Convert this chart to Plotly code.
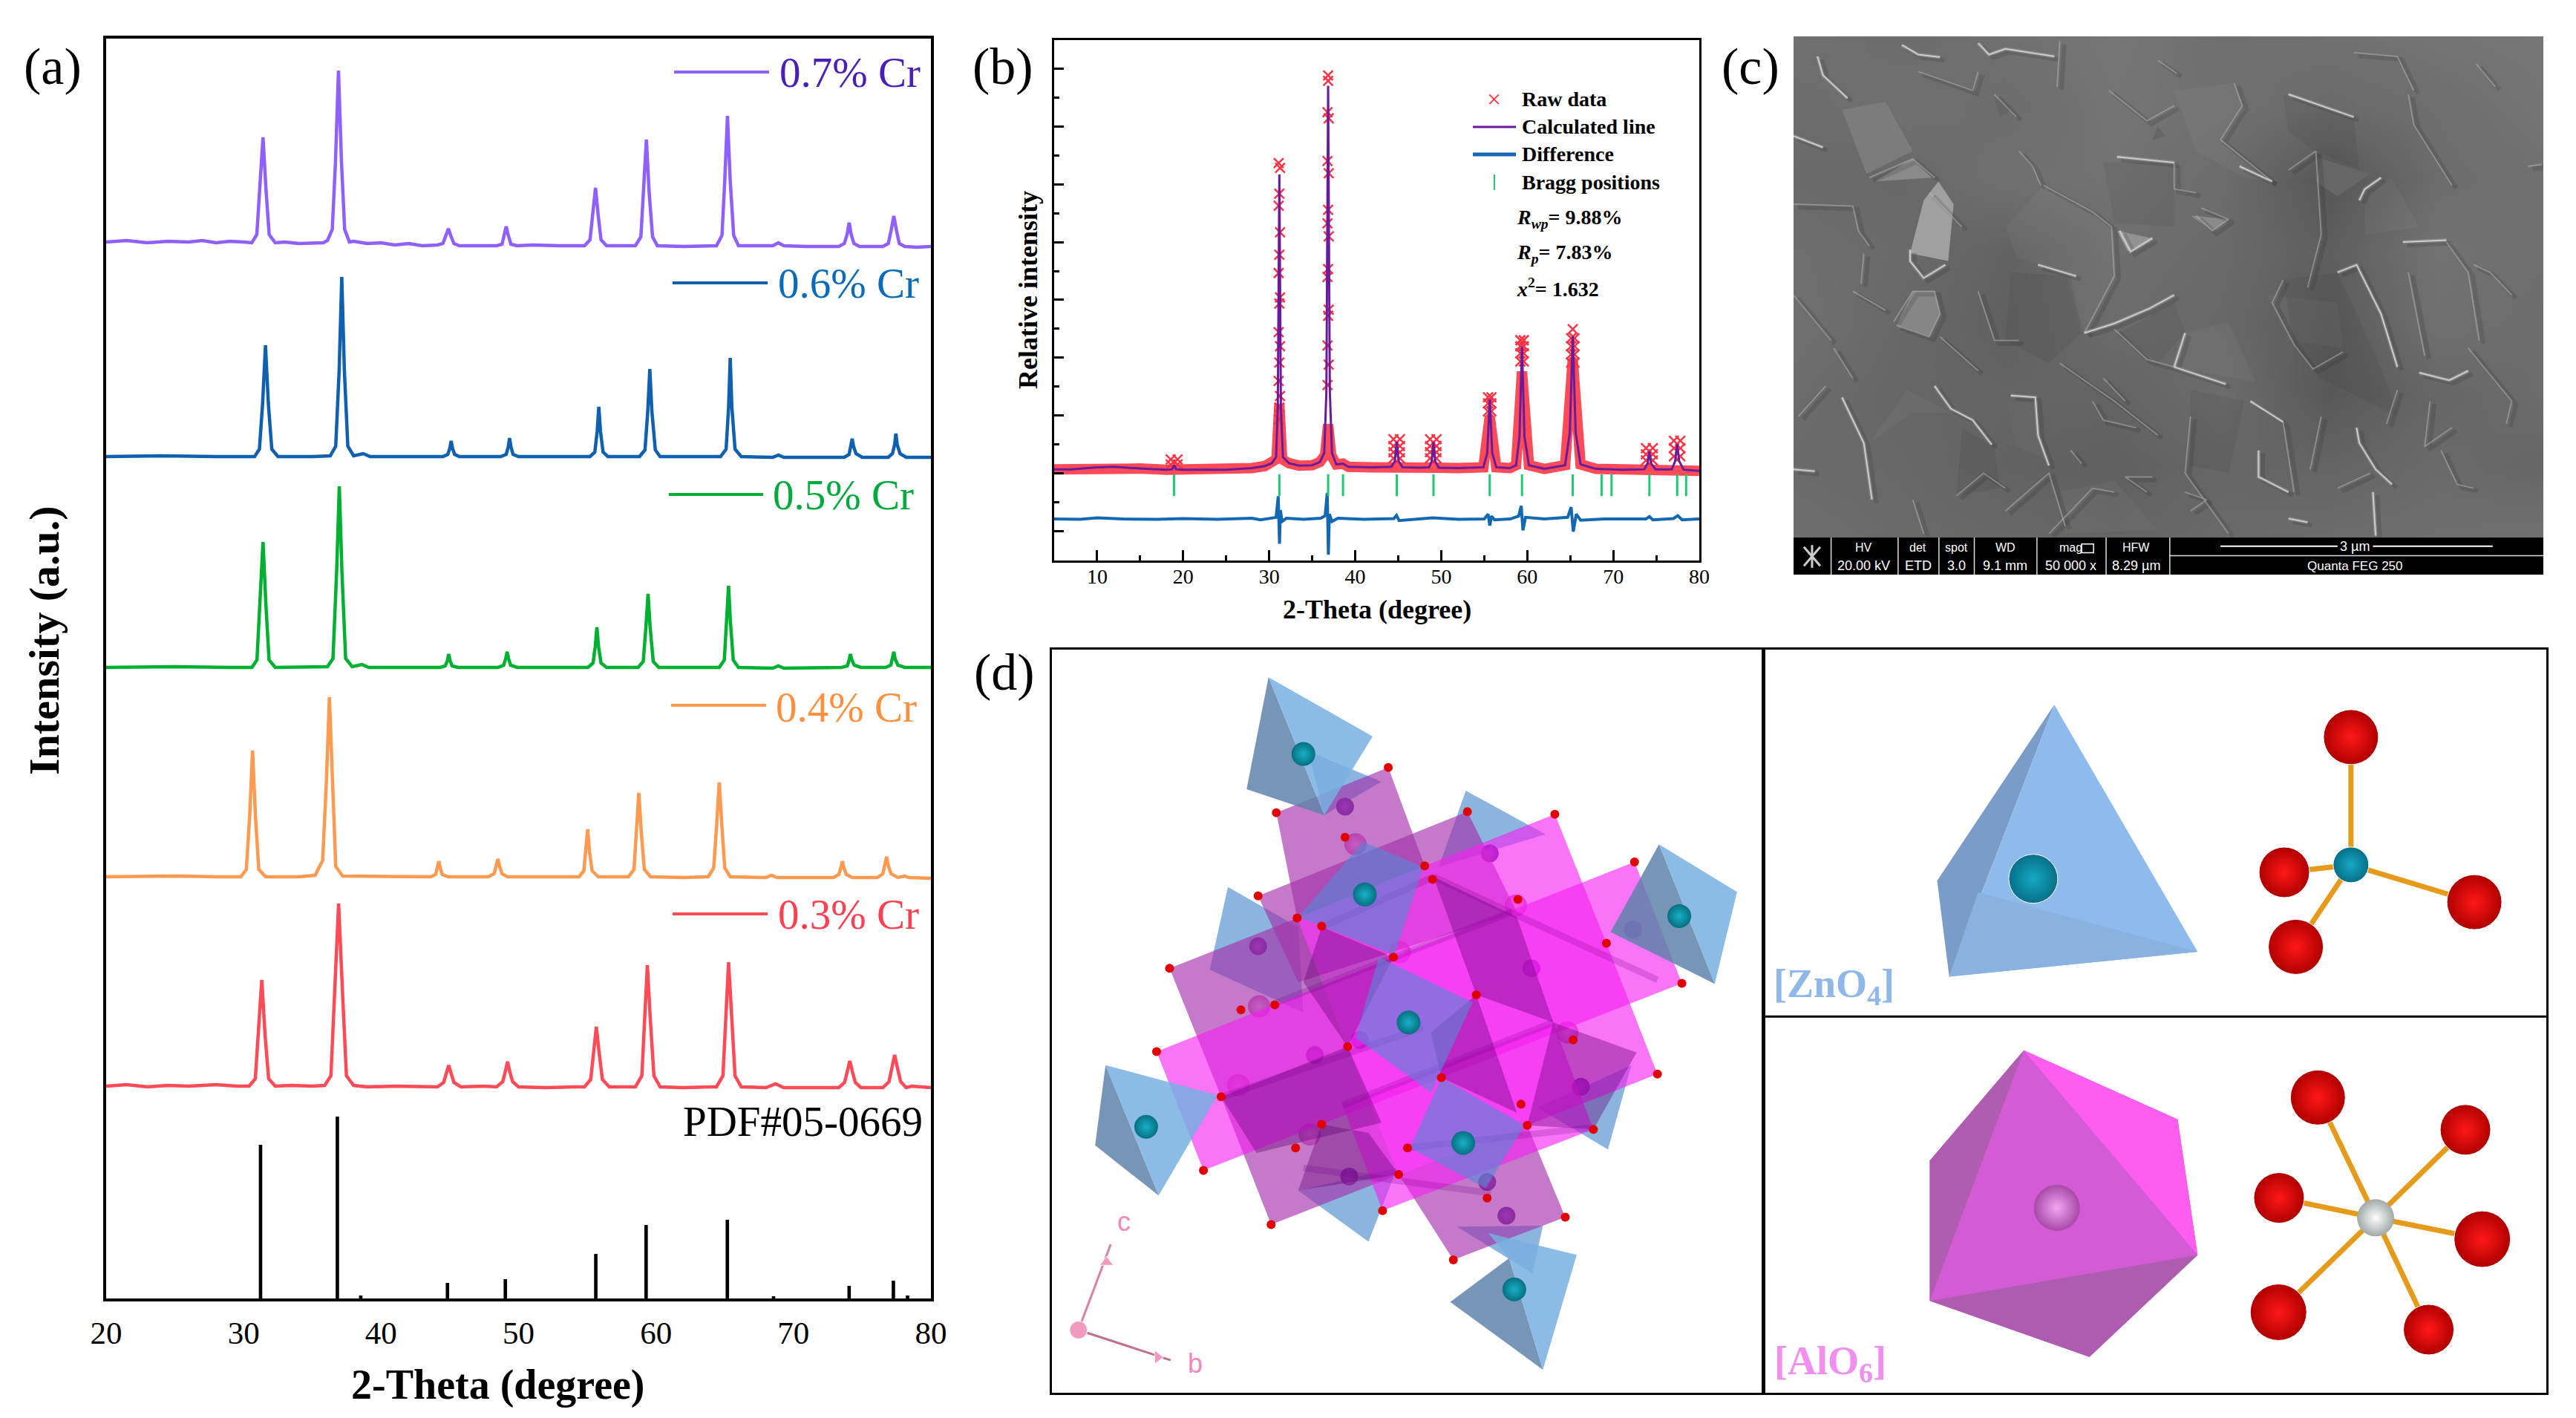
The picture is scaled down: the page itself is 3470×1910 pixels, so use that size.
import plotly.graph_objects as go

W, H = 3470, 1910
SERIF = "Liberation Serif"

# panel (a): stacked XRD patterns, y is just height above the bottom axis
x_07 = [20, 21.5, 23, 24.5, 26, 27, 28, 29, 30,
        30.6, 30.96, 31.19, 31.41, 31.63, 31.86, 32.3, 33, 34, 35,
        35.8, 36.1, 36.45, 36.68, 36.9, 37.12, 37.35, 37.7, 38, 39, 40, 41, 42, 43,
        44.1, 44.5, 44.72, 44.9, 45.08, 45.3, 45.7, 47,
        48.4, 48.8, 48.95, 49.1, 49.25, 49.45, 49.9, 51, 53,
        54.8, 55.2, 55.4, 55.6, 55.8, 56, 56.4, 57.5,
        58.5, 58.9, 59.1, 59.3, 59.5, 59.75, 60.1, 62,
        64.4, 64.8, 65, 65.2, 65.4, 65.65, 66, 67, 68.5, 68.9, 69.3, 71,
        73.3, 73.7, 73.9, 74.05, 74.2, 74.4, 74.8,
        76.5, 76.9, 77.1, 77.3, 77.5, 77.7, 78.1, 79, 80]
y_07 = [1423, 1425, 1422, 1424, 1423, 1425, 1422, 1424, 1423,
        1422, 1433, 1493, 1564, 1493, 1433, 1422, 1423, 1421, 1422,
        1422, 1425, 1440, 1530, 1654, 1530, 1440, 1423, 1424, 1421, 1422, 1419, 1421, 1418,
        1419, 1421, 1431, 1441, 1431, 1421, 1418, 1418,
        1418, 1420, 1432, 1444, 1432, 1420, 1418, 1419, 1418,
        1418, 1426, 1458, 1496, 1458, 1426, 1418, 1418,
        1418, 1430, 1490, 1561, 1490, 1430, 1418, 1417,
        1418, 1432, 1505, 1593, 1505, 1432, 1418, 1418, 1418, 1422, 1418, 1417,
        1417, 1421, 1433, 1449, 1433, 1421, 1417,
        1417, 1421, 1438, 1458, 1438, 1421, 1417, 1416, 1417]

x_06 = [20, 24, 28,
        30.8, 31.15, 31.38, 31.59, 31.8, 32.05, 32.5, 35,
        36.3, 36.7, 36.95, 37.14, 37.33, 37.58, 38, 38.7, 39.2, 42,
        44.5, 44.85, 45, 45.1, 45.2, 45.35, 45.7,
        48.7, 49.1, 49.25, 49.35, 49.45, 49.6, 50, 53,
        55.2, 55.55, 55.72, 55.84, 55.96, 56.15, 56.5,
        58.8, 59.2, 59.4, 59.55, 59.7, 59.95, 60.3, 62,
        64.7, 65.1, 65.28, 65.4, 65.52, 65.75, 66.2, 68.5, 68.9, 69.3,
        73.7, 74.05, 74.18, 74.27, 74.38, 74.55, 75,
        76.9, 77.2, 77.36, 77.45, 77.55, 77.75, 78.2, 80]
y_06 = [1134, 1135, 1134,
        1134, 1144, 1205, 1284, 1205, 1144, 1134, 1134,
        1135, 1148, 1250, 1376, 1250, 1148, 1135, 1138, 1134, 1134,
        1134, 1137, 1145, 1155, 1145, 1137, 1134,
        1134, 1137, 1147, 1159, 1147, 1137, 1134, 1134,
        1134, 1140, 1168, 1201, 1168, 1140, 1134,
        1134, 1143, 1195, 1252, 1195, 1143, 1134, 1134,
        1134, 1144, 1200, 1267, 1200, 1144, 1134, 1133, 1136, 1133,
        1133, 1137, 1147, 1158, 1147, 1138, 1133,
        1133, 1138, 1150, 1165, 1150, 1138, 1133, 1133]

x_05 = [20, 25, 29,
        30.6, 30.97, 31.2, 31.41, 31.62, 31.85, 32.3, 35,
        36.1, 36.5, 36.77, 36.96, 37.15, 37.42, 37.9, 38.6, 39.1, 42,
        44.3, 44.67, 44.82, 44.92, 45.02, 45.17, 45.6,
        48.5, 48.92, 49.07, 49.17, 49.27, 49.42, 49.9, 53,
        55.05, 55.42, 55.58, 55.7, 55.82, 56, 56.4,
        58.7, 59.07, 59.27, 59.42, 59.57, 59.8, 60.2, 62,
        64.6, 64.97, 65.15, 65.28, 65.41, 65.62, 66, 68.5, 68.9, 69.3,
        73.5, 73.92, 74.05, 74.14, 74.25, 74.42, 74.9,
        76.7, 77.08, 77.2, 77.3, 77.4, 77.6, 78.1, 80]
y_05 = [850, 851, 850,
        850, 860, 935, 1019, 935, 860, 850, 850,
        851, 862, 980, 1094, 980, 862, 851, 854, 850, 850,
        850, 852, 859, 868, 859, 852, 850,
        850, 853, 862, 871, 862, 853, 850, 850,
        850, 856, 878, 904, 878, 856, 850,
        850, 858, 905, 949, 905, 858, 850, 850,
        850, 860, 912, 960, 912, 860, 850, 849, 852, 849,
        850, 852, 860, 868, 860, 853, 850,
        850, 853, 861, 871, 861, 853, 850, 850]

x_04 = [20, 25, 28,
        29.8, 30.2, 30.44, 30.65, 30.86, 31.1, 31.6, 34,
        35.2, 35.75, 36.03, 36.24, 36.45, 36.7, 37.2, 38, 42,
        43.6, 43.97, 44.1, 44.2, 44.3, 44.45, 44.9,
        47.8, 48.22, 48.38, 48.5, 48.62, 48.8, 49.2, 52,
        54.4, 54.75, 54.9, 55.03, 55.16, 55.35, 55.8,
        58, 58.4, 58.58, 58.75, 58.92, 59.15, 59.6, 62,
        63.8, 64.2, 64.42, 64.6, 64.78, 65, 65.4, 68, 68.4, 68.8,
        72.9, 73.3, 73.45, 73.56, 73.67, 73.85, 74.3,
        76.1, 76.5, 76.65, 76.78, 76.9, 77.1, 77.6, 78.1, 78.4, 80]
y_04 = [568, 569, 568,
        568, 578, 650, 738, 650, 578, 568, 568,
        570, 590, 700, 810, 700, 582, 569, 569, 568,
        568, 571, 580, 589, 580, 571, 568,
        568, 572, 582, 592, 582, 572, 568, 568,
        568, 576, 602, 632, 602, 576, 568,
        568, 578, 630, 681, 630, 578, 568, 567,
        568, 580, 640, 695, 640, 580, 568, 567, 570, 567,
        567, 571, 580, 589, 580, 571, 567,
        567, 572, 583, 595, 583, 572, 567, 569, 567, 566]

x_03 = [20, 21.5, 23, 24.5, 26, 28, 29.5,
        30.4, 30.85, 31.08, 31.32, 31.56, 31.82, 32.3, 33.5, 35,
        35.9, 36.35, 36.62, 36.91, 37.2, 37.48, 38, 39, 41, 43,
        44.1, 44.55, 44.74, 44.92, 45.1, 45.3, 45.8, 47.5,
        48.4, 48.85, 49.03, 49.2, 49.37, 49.57, 50, 52, 54,
        54.8, 55.25, 55.45, 55.66, 55.87, 56.1, 56.6, 58,
        58.5, 58.97, 59.15, 59.37, 59.59, 59.85, 60.3, 62, 64,
        64.4, 64.87, 65.05, 65.28, 65.51, 65.75, 66.2, 68, 68.7, 69.3, 71,
        73.3, 73.72, 73.92, 74.1, 74.28, 74.5, 74.9,
        76.5, 76.95, 77.15, 77.36, 77.57, 77.8, 78.2, 78.6, 80]
y_03 = [286, 288, 285, 287, 286, 288, 286,
        286, 296, 355, 429, 355, 296, 286, 287, 286,
        287, 300, 410, 532, 410, 300, 287, 285, 286, 285,
        285, 291, 303, 314, 303, 291, 285, 286,
        285, 292, 305, 319, 305, 292, 285, 284, 285,
        285, 295, 330, 366, 330, 295, 285, 285,
        285, 300, 375, 449, 375, 300, 285, 284, 285,
        285, 300, 378, 453, 378, 300, 285, 284, 289, 284, 284,
        284, 291, 306, 320, 306, 291, 284,
        284, 292, 310, 328, 310, 292, 284, 286, 284, 284]

series_names = ["0.7% Cr", "0.6% Cr", "0.5% Cr", "0.4% Cr", "0.3% Cr"]

pdf_x = [31.23, 36.82, 38.52, 44.83, 49.04, 55.62, 59.28, 65.19, 68.55, 74.05, 77.27, 78.3]
pdf_y = [207, 245, 4, 21, 26, 60, 99, 106, 3, 17, 24, 4]

# panel (b): Rietveld refinement
calc_x = [5, 7, 10, 12, 15, 18, 18.7, 18.95, 19.2, 20, 25, 28, 29.5, 30.3, 30.8, 31.0, 31.18, 31.36, 31.6,
          32.3, 33.5, 35, 35.9, 36.4, 36.65, 36.85, 37.05, 37.3, 37.8, 38.58, 39.2, 42,
          44.2, 44.6, 44.83, 45.05, 45.5, 47.5, 48.6, 48.9, 49.1, 49.3, 49.7, 52,
          54.9, 55.35, 55.64, 55.93, 56.4, 58, 58.7, 59.1, 59.39, 59.68, 60.2, 62,
          64.4, 64.95, 65.29, 65.63, 66.2, 68, 71, 73.6, 74, 74.2, 74.4, 74.9,
          76.8, 77.2, 77.43, 77.66, 78.2, 80]
calc_y = [10, 10, 15, 16, 12, 9, 10, 20, 10, 9, 9, 13, 18, 25, 40, 160, 734, 160, 40,
          25, 19, 20, 28, 50, 200, 952, 200, 50, 22, 24, 16, 15,
          16, 30, 77, 30, 15, 14, 15, 30, 77, 30, 14, 13,
          15, 50, 182, 50, 15, 13, 20, 90, 312, 90, 20, 11,
          20, 100, 337, 100, 22, 11, 9, 10, 25, 54, 25, 10,
          10, 30, 72, 30, 9, 6]

band_x = [5, 7, 10, 12, 15, 18, 20, 25, 28, 29.5, 30.3, 30.85, 31.18, 31.5, 32.3, 33.5, 35,
          35.9, 36.5, 36.85, 37.2, 37.8, 38.58, 39.2, 42, 44.2, 45.5, 47.5, 48.6, 49.7, 52,
          54.9, 55.64, 56.4, 58, 58.7, 59.39, 60.2, 62, 64.4, 65.29, 66.2, 68, 71,
          73.6, 74.9, 76.8, 78.2, 80]
band_y = [10, 10, 15, 16, 12, 9, 9, 9, 13, 18, 25, 35, 170, 35, 25, 19, 20,
          28, 45, 120, 45, 22, 24, 16, 15, 16, 15, 14, 15, 14, 13,
          15, 140, 15, 13, 20, 250, 20, 11, 20, 280, 22, 11, 9,
          10, 10, 10, 9, 6]

raw_x = [31.1, 31.26, 31.18, 31.1, 31.26, 31.18, 31.1, 31.26, 31.18, 31.1, 31.26, 31.18, 31.1, 31.26, 31.18, 31.1,
         36.85, 36.85, 36.78, 36.92, 36.78, 36.92, 36.85, 36.78, 36.92, 36.85, 36.78, 36.92, 36.85, 36.78, 36.92, 36.78,
         55.44, 55.84, 55.44, 55.84, 55.44, 55.84,
         59.2, 59.6, 59.2, 59.6, 59.2, 59.6, 59.2, 59.6,
         65.29, 65.1, 65.5, 65.1, 65.5, 65.1, 65.5, 65.1, 65.5,
         44.45, 45.2, 44.45, 45.2, 44.45, 45.2, 44.45, 45.2,
         48.7, 49.45, 48.7, 49.45, 48.7, 49.45, 48.7, 49.45,
         73.8, 74.6, 73.8, 74.6, 73.8, 74.6,
         77.05, 77.8, 77.05, 77.8, 77.05, 77.8,
         18.55, 19.35, 18.55, 19.35]
raw_y = [762, 750, 687, 657, 592, 537, 492, 432, 417, 347, 312, 272, 227, 190, 162, 132,
         977, 964, 887, 872, 767, 737, 647, 614, 582, 502, 482, 402, 387, 314, 267, 217,
         187, 187, 172, 172, 152, 152,
         327, 327, 312, 312, 295, 295, 275, 275,
         354, 332, 332, 312, 312, 292, 292, 272, 272,
         84, 84, 67, 67, 52, 52, 37, 37,
         84, 84, 67, 67, 52, 52, 37, 37,
         62, 62, 47, 47, 32, 32,
         80, 80, 62, 62, 42, 42,
         34, 34, 22, 22]

diff_x = [5, 8, 10, 13, 17, 20, 24, 28, 29, 30, 30.8, 31.05, 31.2, 31.3, 31.5, 32, 34, 36, 36.5, 36.75, 36.88, 37, 37.3, 38, 41,
          44.5, 44.8, 45.1, 47, 49, 52, 55, 55.45, 55.65, 55.85, 56.2, 58, 59, 59.3, 59.5, 59.8, 62,
          64.7, 65.1, 65.35, 65.7, 66.2, 69, 73.8, 74.2, 74.6, 77, 77.5, 78, 80]
diff_y = [-112, -113, -109, -112, -113, -111, -113, -110, -114, -110, -108, -56, -173, -90, -118, -110, -113, -110, -104, -48, -200, -100, -118, -110, -113,
          -111, -103, -116, -112, -109, -113, -112, -100, -128, -105, -114, -112, -105, -80, -140, -108, -112,
          -108, -83, -143, -100, -115, -112, -112, -106, -114, -111, -104, -114, -112]

bragg_x = [18.93, 31.18, 36.85, 38.58, 44.83, 49.1, 55.64, 59.39, 65.29, 68.64, 69.8, 74.2, 77.43, 78.47]
bragg_y = [-29, -29, -29, -29, -29, -29, -29, -29, -29, -29, -29, -29, -29, -29]

# panel (c): SEM micrograph, drawn by hand in the crop's own coordinates
sem_x = [131, 328, 525, 722, 919, 1116, 1313, 1508]
sem_y = [97, 286, 475, 664, 853, 1042, 1231, 1420]
sem_z = [[112, 108, 112, 118, 110, 112, 116, 118],
         [108, 112, 108, 116, 112, 106, 110, 116],
         [106, 104, 112, 114, 108, 86, 108, 112],
         [110, 106, 98, 110, 106, 94, 114, 110],
         [112, 104, 96, 108, 104, 90, 112, 108],
         [108, 102, 100, 100, 108, 88, 102, 108],
         [106, 104, 98, 96, 102, 100, 106, 102],
         [110, 106, 104, 100, 106, 108, 110, 112]]

sem_bright = [[(330, 120), (360, 145), (400, 152)], [(470, 115), (490, 145), (520, 130), (610, 150)],
              [(175, 150), (185, 200), (230, 260)], [(580, 700), (650, 730)], [(1040, 250), (1100, 280), (1160, 310)],
              [(950, 440), (1010, 480)], [(725, 415), (830, 430)], [(1250, 640), (1330, 635)],
              [(1170, 530), (1180, 500), (1210, 470)], [(1130, 720), (1165, 700), (1210, 830), (1240, 970)],
              [(1280, 985), (1335, 1005), (1370, 980)], [(830, 970), (925, 1015)], [(850, 880), (830, 970)],
              [(530, 1045), (575, 1050), (580, 1150), (600, 1230)], [(390, 1020), (420, 1080), (460, 1110), (495, 1175)],
              [(220, 1050), (260, 1170), (275, 1320)], [(985, 1190), (985, 1260), (1040, 1300)],
              [(1165, 1130), (1170, 1170), (1200, 1240), (1230, 1280)], [(1195, 1300), (1200, 1415)],
              [(131, 360), (185, 390)], [(131, 1240), (170, 1245)], [(970, 1060), (1030, 1115)],
              [(665, 880), (720, 855), (785, 815), (830, 780)], [(345, 660), (345, 690), (370, 735), (410, 700)],
              [(730, 610), (750, 665), (790, 630)], [(1040, 1370), (1075, 1380)]]
sem_mid = [[(590, 490), (680, 560), (715, 600), (720, 730), (665, 880)], [(585, 490), (570, 440), (545, 400)],
           [(131, 540), (240, 545), (250, 610), (270, 650)], [(205, 920), (240, 1000)], [(131, 780), (200, 900)],
           [(400, 890), (470, 980)], [(720, 870), (780, 950), (830, 970)],
           [(1030, 740), (1010, 800), (1050, 910), (1085, 975), (1140, 930)], [(1260, 250), (1270, 330), (1340, 490)],
           [(1160, 140), (1240, 150), (1270, 240)], [(940, 220), (955, 280), (915, 370), (1010, 480)],
           [(800, 160), (835, 195)], [(270, 470), (350, 420), (390, 470)], [(880, 550), (930, 580), (900, 610), (870, 570)],
           [(700, 1000), (740, 1060)], [(1380, 700), (1410, 720), (1450, 780)], [(1370, 920), (1450, 1060), (1440, 1120)],
           [(1240, 1030), (1220, 1120)], [(850, 1300), (890, 1320), (860, 1350)], [(1040, 450), (1090, 400)],
           [(1100, 1100), (1080, 1240)], [(320, 860), (380, 890), (400, 830), (390, 770), (350, 770), (315, 850)],
           [(240, 770), (300, 820)], [(260, 670), (255, 750)], [(620, 110), (615, 230)], [(640, 1190), (660, 1225)],
           [(1320, 1190), (1350, 1280), (1380, 1290)], [(520, 1350), (600, 1250), (630, 1390)], [(1130, 1290), (1190, 1250)],
           [(760, 1130), (700, 1110), (680, 1060)], [(380, 510), (440, 600)], [(1480, 440), (1505, 435)],
           [(780, 1300), (740, 1260), (790, 1260)], [(1385, 170), (1420, 230)], [(500, 250), (540, 310)],
           [(1090, 400), (1100, 620), (1075, 760)], [(1330, 640), (1370, 720), (1390, 900)], [(1260, 720), (1290, 940)],
           [(470, 770), (500, 900), (545, 900)], [(620, 960), (720, 1060), (800, 1150)], [(430, 1310), (480, 1250), (520, 1290)],
           [(860, 1100), (850, 1250), (930, 1410)], [(1030, 1115), (1050, 1300)], [(1300, 1060), (1290, 1180), (1340, 1130)],
           [(600, 1410), (680, 1290), (720, 1300)], [(350, 1320), (370, 1410)], [(140, 1100), (190, 1020)],
           [(830, 430), (830, 500), (870, 510)], [(360, 190), (460, 240), (470, 190)], [(710, 240), (780, 320), (830, 280)]]
sem_facets = [[(397, 480), (425, 540), (415, 690), (345, 670), (370, 530)],
              [(280, 480), (350, 420), (385, 470)],
              [(320, 860), (380, 890), (400, 830), (390, 770), (350, 770)],
              [(220, 290), (300, 270), (350, 400), (265, 460)],
              [(860, 570), (930, 580), (900, 610)],
              [(725, 610), (790, 630), (745, 665)]]
sem_facet_grey = ["#a0a0a0", "#8a8a8a", "#868686", "#7c7c7c", "#8a8a8a", "#929292"]
sem_shadow = [[(1100, 420), (1190, 460), (1130, 520), (1090, 480)], [(800, 335), (815, 360), (790, 370)],
              [(500, 260), (530, 290), (510, 310)], [(520, 1060), (575, 1060), (590, 1210), (540, 1180)]]
sem_soft_light = [[(590, 490), (680, 560), (715, 600), (720, 730), (665, 880), (630, 720), (540, 680), (520, 600)],
                  [(940, 220), (955, 280), (915, 370), (1010, 480), (960, 470), (870, 400), (830, 240)],
                  [(850, 880), (930, 850), (980, 1010), (830, 970)],
                  [(1180, 500), (1230, 470), (1280, 600), (1180, 620)],
                  [(270, 1170), (340, 1030), (420, 1090), (350, 1090)],
                  [(1040, 900), (1000, 780), (1130, 800), (1140, 920)],
                  [(620, 1300), (720, 1270), (800, 1400), (630, 1410)]]
sem_soft_dark = [[(1130, 720), (1210, 970), (1240, 1100), (1100, 1000), (1050, 910), (1030, 740)],
                 [(530, 720), (640, 730), (660, 880), (600, 960), (520, 900)],
                 [(730, 880), (830, 800), (850, 880), (800, 960)],
                 [(1030, 250), (1160, 310), (1170, 450), (1090, 400), (1040, 350)],
                 [(440, 1130), (500, 1180), (510, 1290), (430, 1310)],
                 [(860, 1030), (960, 1060), (930, 1250), (860, 1230)],
                 [(700, 430), (830, 430), (830, 600), (720, 590)]]

bar_cols = [200, 323, 398, 463, 578, 705, 822]
bar_heads = ["HV", "det", "spot", "WD", "mag", "HFW"]
bar_vals = ["20.00 kV", "ETD", "3.0", "9.1 mm", "50 000 x", "8.29 µm"]
bar_cx = [260, 360, 430, 520, 640, 760]

# panel (d): crystal structure polyhedra, in crop coordinates
dusky_x = [[393, 638, 735, 492], [492, 735, 833, 588], [598, 813, 883, 638], [833, 1080, 1153, 938], [563, 965, 1060, 640]]
dusky_y = [[672, 572, 828, 928], [928, 828, 1083, 1183], [362, 272, 468, 572], [1083, 985, 1168, 1253], [528, 360, 560, 700]]
bright_x = [[883, 1133, 1232, 982], [638, 883, 982, 735], [982, 1232, 1330, 1080], [735, 982, 1080, 833],
            [823, 1286, 1377, 915], [368, 823, 915, 458], [802, 1207, 1130, 725]]
bright_y = [[468, 365, 622, 725], [572, 468, 725, 828], [725, 622, 883, 985], [828, 725, 985, 1083],
            [650, 460, 702, 890], [838, 650, 890, 1075], [1155, 993, 780, 945]]
core_x = [[900, 1060, 1130, 982], [685, 823, 735, 650], [492, 735, 800, 560], [1080, 1130, 1290, 1207],
          [982, 1060, 915, 895], [640, 833, 775, 685]]
core_y = [[490, 570, 780, 725], [590, 650, 828, 700], [928, 828, 980, 1040], [985, 780, 840, 993],
          [725, 960, 890, 800], [1115, 1083, 1000, 983]]
strip_x = [[685, 900], [900, 1330], [600, 1050], [725, 1130], [490, 880], [850, 1200], [650, 1010]]
strip_y = [[590, 490], [490, 695], [740, 560], [945, 780], [930, 790], [1030, 990], [1070, 1120]]

back_tet_x = [[505, 470, 650, 640], [962, 910, 1115], [1280, 1235, 1100], [640, 775, 830], [945, 1090, 1110], [660, 690, 800]]
back_tet_y = [[510, 675, 760, 590], [318, 470, 405], [865, 1033, 950], [1115, 1217, 1070], [1187, 1280, 1185], [240, 367, 300]]
front_tet_x = [[795, 975, 895, 750], [765, 880, 825, 640], [915, 1075, 1000, 855]]
front_tet_y = [[650, 740, 920, 810], [420, 470, 645, 570], [890, 985, 1110, 1030]]

outer_dark_x = [[583, 541, 690], [1333, 1240, 1440], [270, 250, 372], [1045, 932, 1110]]
outer_dark_y = [[92, 315, 367], [425, 600, 703], [865, 1025, 1125], [1250, 1337, 1472]]
outer_light_x = [[583, 783, 690], [1333, 1483, 1440], [270, 485, 372], [1005, 1175, 1110, 1045]]
outer_light_y = [[92, 210, 367], [425, 520, 703], [865, 925, 1125], [1200, 1243, 1472, 1250]]

teal_x = [650, 768, 1372, 852, 348, 957, 1055]
teal_y = [245, 525, 568, 780, 988, 1020, 1312]
pink_x = [565, 662, 1157, 1058, 750, 835, 525]
pink_y = [748, 1003, 800, 547, 425, 640, 905]
violet_x = [730, 1008, 563, 1283, 1183, 738, 1040, 672, 1088, 758, 1003]
violet_y = [350, 443, 628, 595, 908, 1087, 1165, 845, 672, 815, 1098]
oxygen_x = [813, 598, 1133, 730, 883, 898, 1286, 563, 1062, 638, 685, 965, 1232, 823, 1377, 393, 982, 595, 530,
            735, 368, 1168, 1330, 915, 492, 1068, 1080, 1207, 685, 635, 458, 850, 833, 1003, 802, 1153, 588, 938]
oxygen_y = [272, 362, 365, 411, 468, 495, 460, 528, 535, 572, 588, 360, 622, 650, 702, 672, 725, 745, 755,
            828, 838, 815, 883, 890, 928, 943, 985, 993, 983, 1030, 1075, 1030, 1083, 1130, 1155, 1168, 1183, 1253]

# close-ups on the right of (d)
tet_faces_x = [[575, 352, 375], [575, 848, 375], [430, 848, 375]]
tet_faces_y = [[133, 487, 680], [133, 630, 680], [510, 630, 680]]
tet_face_cols = ["#7a9cc6", "#8fbbec", "#8ab2e0"]
oct_faces_x = [[517, 810, 848, 642, 338, 338], [517, 338, 338], [517, 810, 848], [338, 848, 642]]
oct_faces_y = [[828, 967, 1240, 1445, 1332, 1050], [828, 1050, 1332], [828, 967, 1240], [1332, 1240, 1445]]
oct_face_cols = ["#d35bd6", "#b05cb0", "#ff5cf0", "#ae5cb0"]

zn_center = (1140, 455)
zn_oxy_x = [1140, 1013, 1375, 1035]
zn_oxy_y = [198, 470, 530, 620]
zn_oxy_size = [74, 68, 74, 74]
al_center = (1187, 1165)
al_oxy_x = [1077, 1358, 1003, 1390, 1002, 1288]
al_oxy_y = [923, 988, 1125, 1208, 1355, 1390]
al_oxy_size = [74, 68, 68, 76, 76, 68]


def fx(px):
    return px / W


def fy(py):
    return 1 - py / H


def text(px, py, s, size, color="black", bold=False, anchor="center", angle=0):
    if bold:
        s = "<b>" + s + "</b>"
    return dict(xref="paper", yref="paper", x=fx(px), y=fy(py), text=s, showarrow=False,
                xanchor=anchor, yanchor="middle", textangle=angle,
                font=dict(family=SERIF, size=size, color=color))


def seg(x0, y0, x1, y1, color, width):
    return dict(type="line", xref="paper", yref="paper", x0=fx(x0), y0=fy(y0), x1=fx(x1), y1=fy(y1),
                line=dict(color=color, width=width))


def polyline_xy(lines, dx=0, dy=0):
    xs, ys = [], []
    for line in lines:
        xs += [p[0] + dx for p in line] + [None]
        ys += [p[1] + dy for p in line] + [None]
    return xs, ys


def poly(fig, xs, ys, fill, ax):
    fig.add_trace(go.Scatter(x=xs, y=ys, mode="lines", fill="toself", fillcolor=fill,
                             line=dict(width=0), xaxis="x" + ax, yaxis="y" + ax))


fig = go.Figure()

# ---- panel a
a_cols = ["#9060ff", "#1060b0", "#00b030", "#ff9a50", "#ff4a58"]
a_data = [(x_07, y_07), (x_06, y_06), (x_05, y_05), (x_04, y_04), (x_03, y_03)]
for (xs, ys), col, name in zip(a_data, a_cols, series_names):
    fig.add_trace(go.Scatter(x=xs, y=ys, mode="lines", name=name, line=dict(color=col, width=4.5),
                             xaxis="x", yaxis="y"))
fig.add_trace(go.Bar(x=pdf_x, y=pdf_y, width=0.25, marker=dict(color="black", line=dict(width=0)),
                     name="PDF#05-0669", xaxis="x", yaxis="y"))

# ---- panel b
fig.add_trace(go.Scatter(x=band_x, y=band_y, mode="lines", line=dict(color="#ff4a58", width=14),
                         xaxis="x2", yaxis="y2"))
fig.add_trace(go.Scatter(x=raw_x, y=raw_y, mode="markers", name="Raw data",
                         marker=dict(symbol="x-thin", size=13, line=dict(color="#ff3344", width=2.5)),
                         xaxis="x2", yaxis="y2"))
fig.add_trace(go.Scatter(x=calc_x, y=calc_y, mode="lines", name="Calculated line",
                         line=dict(color="#6a1b9a", width=3), xaxis="x2", yaxis="y2"))
fig.add_trace(go.Scatter(x=diff_x, y=diff_y, mode="lines", name="Difference",
                         line=dict(color="#1268b3", width=4), xaxis="x2", yaxis="y2"))
fig.add_trace(go.Scatter(x=bragg_x, y=bragg_y, mode="markers", name="Bragg positions",
                         marker=dict(symbol="line-ns", size=21, line=dict(color="#20c870", width=3)),
                         xaxis="x2", yaxis="y2"))

# ---- panel c
fig.add_trace(go.Heatmap(x=sem_x, y=sem_y, z=sem_z, zmin=0, zmax=255, zsmooth="best", showscale=False,
                         colorscale=[[0, "black"], [1, "white"]], xaxis="x3", yaxis="y3"))
for facet in sem_soft_light:
    poly(fig, [p[0] for p in facet], [p[1] for p in facet], "rgba(255,255,255,0.035)", "3")
for facet in sem_soft_dark:
    poly(fig, [p[0] for p in facet], [p[1] for p in facet], "rgba(0,0,0,0.05)", "3")
for facet, grey in zip(sem_facets, sem_facet_grey):
    poly(fig, [p[0] for p in facet], [p[1] for p in facet], grey, "3")
for facet in sem_shadow:
    poly(fig, [p[0] for p in facet], [p[1] for p in facet], "#666666", "3")
sx, sy = polyline_xy(sem_bright + sem_mid, 8, 8)
fig.add_trace(go.Scatter(x=sx, y=sy, mode="lines", line=dict(color="rgba(40,40,40,0.16)", width=6), xaxis="x3", yaxis="y3"))
mx, my = polyline_xy(sem_mid)
fig.add_trace(go.Scatter(x=mx, y=my, mode="lines", line=dict(color="rgba(180,180,180,0.55)", width=1.8), xaxis="x3", yaxis="y3"))
bx, by = polyline_xy(sem_bright)
fig.add_trace(go.Scatter(x=bx, y=by, mode="lines", line=dict(color="rgba(225,225,225,0.2)", width=5), xaxis="x3", yaxis="y3"))
fig.add_trace(go.Scatter(x=bx, y=by, mode="lines", line=dict(color="#cccccc", width=2), xaxis="x3", yaxis="y3"))
poly(fig, [131, 1508, 1508, 131], [1420, 1420, 1518, 1518], "black", "3")
sep_x, sep_y = [], []
for c in bar_cols:
    sep_x += [c, c, None]
    sep_y += [1420, 1518, None]
sep_x += [822, 1508, None]
sep_y += [1468, 1468, None]
fig.add_trace(go.Scatter(x=sep_x, y=sep_y, mode="lines", line=dict(color="#dddddd", width=1.5), xaxis="x3", yaxis="y3"))
fig.add_trace(go.Scatter(x=[915, 1130, None, 1195, 1415], y=[1443, 1443, None, 1443, 1443], mode="lines",
                         line=dict(color="white", width=2), xaxis="x3", yaxis="y3"))
fig.add_trace(go.Scatter(x=[150, 180, None, 180, 150, None, 165, 165], y=[1445, 1495, None, 1445, 1495, None, 1440, 1500],
                         mode="lines", line=dict(color="#cccccc", width=3), xaxis="x3", yaxis="y3"))

# ---- panel d, main structure
for xs, ys in zip(back_tet_x, back_tet_y):
    poly(fig, xs, ys, "rgba(90,150,210,0.7)", "4")
fig.add_trace(go.Scatter(x=violet_x, y=violet_y, mode="markers",
                         marker=dict(size=24, color="#5a2090", opacity=1, gradient=dict(type="radial", color="#8a3fc0")),
                         xaxis="x4", yaxis="y4"))
fig.add_trace(go.Scatter(x=pink_x, y=pink_y, mode="markers",
                         marker=dict(size=30, color="#e060c0", opacity=1, gradient=dict(type="radial", color="#ffb0f0")),
                         xaxis="x4", yaxis="y4"))
for xs, ys in zip(dusky_x, dusky_y):
    poly(fig, xs, ys, "rgba(165,50,170,0.65)", "4")
for xs, ys in zip(bright_x, bright_y):
    poly(fig, xs, ys, "rgba(245,30,240,0.62)", "4")
for xs, ys in zip(core_x, core_y):
    poly(fig, xs, ys, "rgba(100,0,120,0.38)", "4")
for xs, ys in zip(strip_x, strip_y):
    fig.add_trace(go.Scatter(x=xs, y=ys, mode="lines", line=dict(color="rgba(120,0,140,0.22)", width=9),
                             xaxis="x4", yaxis="y4"))
for xs, ys in zip(front_tet_x, front_tet_y):
    poly(fig, xs, ys, "rgba(85,135,215,0.62)", "4")
for xs, ys in zip(outer_dark_x, outer_dark_y):
    poly(fig, xs, ys, "rgba(95,130,170,0.85)", "4")
for xs, ys in zip(outer_light_x, outer_light_y):
    poly(fig, xs, ys, "rgba(120,175,225,0.85)", "4")
fig.add_trace(go.Scatter(x=teal_x, y=teal_y, mode="markers",
                         marker=dict(size=32, color="#067080", opacity=1, gradient=dict(type="radial", color="#18b0c8")),
                         xaxis="x4", yaxis="y4"))
fig.add_trace(go.Scatter(x=oxygen_x, y=oxygen_y, mode="markers",
                         marker=dict(size=12, color="#e00000", opacity=1), xaxis="x4", yaxis="y4"))
# little axes triad
fig.add_trace(go.Scatter(x=[218, 280], y=[1393, 1222], mode="lines", line=dict(color="#d9849a", width=3), xaxis="x4", yaxis="y4"))
fig.add_trace(go.Scatter(x=[218, 395], y=[1393, 1453], mode="lines", line=dict(color="#c07088", width=3), xaxis="x4", yaxis="y4"))
fig.add_trace(go.Scatter(x=[218, 272, 370], y=[1393, 1258, 1447], mode="markers",
                         marker=dict(size=[24, 16, 16], color="#f09ac0", opacity=1,
                                     symbol=["circle", "triangle-up", "triangle-right"]),
                         xaxis="x4", yaxis="y4"))

# ---- panel d, close-ups
for xs, ys, col in zip(tet_faces_x, tet_faces_y, tet_face_cols):
    poly(fig, xs, ys, col, "5")
for xs, ys, col in zip(oct_faces_x, oct_faces_y, oct_face_cols):
    poly(fig, xs, ys, col, "5")
for cen, ox, oy in [(zn_center, zn_oxy_x, zn_oxy_y), (al_center, al_oxy_x, al_oxy_y)]:
    for a, b in zip(ox, oy):
        fig.add_trace(go.Scatter(x=[cen[0], a], y=[cen[1], b], mode="lines", line=dict(color="#e69a1a", width=7),
                                 xaxis="x5", yaxis="y5"))
fig.add_trace(go.Scatter(x=[535, 1140], y=[483, 455], mode="markers",
                         marker=dict(size=[66, 48], color="#067088", opacity=1,
                                     gradient=dict(type="radial", color="#16a8c4")), xaxis="x5", yaxis="y5"))
fig.add_trace(go.Scatter(x=[580], y=[1145], mode="markers",
                         marker=dict(size=62, color="#a848a8", opacity=1, gradient=dict(type="radial", color="#f0a8f0")),
                         xaxis="x5", yaxis="y5"))
fig.add_trace(go.Scatter(x=[1187], y=[1165], mode="markers",
                         marker=dict(size=50, color="#a0a8a8", opacity=1, gradient=dict(type="radial", color="#ffffff")),
                         xaxis="x5", yaxis="y5"))
fig.add_trace(go.Scatter(x=zn_oxy_x + al_oxy_x, y=zn_oxy_y + al_oxy_y, mode="markers",
                         marker=dict(size=zn_oxy_size + al_oxy_size, color="#b00000", opacity=1,
                                     gradient=dict(type="radial", color="#ff1818")), xaxis="x5", yaxis="y5"))
fig.add_trace(go.Scatter(x=[22, 1512], y=[760, 760], mode="lines", line=dict(color="black", width=3), xaxis="x5", yaxis="y5"))

anns = [
    text(71, 90, "(a)", 70), text(1351, 90, "(b)", 70), text(2358, 90, "(c)", 70), text(1353, 905, "(d)", 70),
    text(671, 1865, "2-Theta (degree)", 56, bold=True),
    text(60, 863, "Intensity (a.u.)", 58, bold=True, angle=-90),
    text(1048, 97, "0.7% Cr", 57, "#4a1fb8", anchor="left"),
    text(1046, 381, "0.6% Cr", 57, "#0a6cb8", anchor="left"),
    text(1039, 666, "0.5% Cr", 57, "#00aa3c", anchor="left"),
    text(1043, 953, "0.4% Cr", 57, "#ff9040", anchor="left"),
    text(1046, 1231, "0.3% Cr", 57, "#ff4050", anchor="left"),
    text(918, 1510, "PDF#05-0669", 57, anchor="left"),
    text(1855, 821, "2-Theta (degree)", 36, bold=True),
    text(1385, 391, "Relative intensity", 36, bold=True, angle=-90),
    text(2013, 134, "×", 34, "#ff3344"),
    text(2048, 134, "Raw data", 28, bold=True, anchor="left"),
    text(2048, 171, "Calculated line", 28, bold=True, anchor="left"),
    text(2048, 208, "Difference", 28, bold=True, anchor="left"),
    text(2048, 245, "Bragg positions", 28, bold=True, anchor="left"),
    text(2041, 294, "<i>R<sub>wp</sub></i>= 9.88%", 28, bold=True, anchor="left"),
    text(2041, 341, "<i>R<sub>p</sub></i>= 7.83%", 28, bold=True, anchor="left"),
    text(2041, 388, "<i>x</i><sup>2</sup>= 1.632", 28, bold=True, anchor="left"),
    text(2470, 1328, "[ZnO<sub>4</sub>]", 54, "#8fb8e8", bold=True),
    text(2465, 1836, "[AlO<sub>6</sub>]", 54, "#f08ff0", bold=True),
]
for cx, head, val in zip(bar_cx, bar_heads, bar_vals):
    anns.append(dict(xref="x3", yref="y3", x=cx, y=1447, text=head, showarrow=False,
                     font=dict(family="Liberation Sans", size=16, color="white")))
    anns.append(dict(xref="x3", yref="y3", x=cx, y=1495, text=val, showarrow=False,
                     font=dict(family="Liberation Sans", size=18, color="white")))
anns.append(dict(xref="x3", yref="y3", x=1162, y=1443, text="3 µm", showarrow=False,
                 font=dict(family="Liberation Sans", size=18, color="white")))
anns.append(dict(xref="x3", yref="y3", x=1162, y=1495, text="Quanta FEG 250", showarrow=False,
                 font=dict(family="Liberation Sans", size=17, color="white")))
anns.append(dict(xref="x4", yref="y4", x=305, y=1177, text="c", showarrow=False,
                 font=dict(family="Liberation Sans", size=36, color="#f088b8")))
anns.append(dict(xref="x4", yref="y4", x=442, y=1460, text="b", showarrow=False,
                 font=dict(family="Liberation Sans", size=36, color="#f088b8")))

shapes = [
    seg(908, 97, 1036, 97, "#9060ff", 4), seg(906, 381, 1034, 381, "#1060b0", 4),
    seg(901, 666, 1028, 666, "#00b030", 4), seg(904, 950, 1032, 950, "#ff9a50", 4),
    seg(906, 1231, 1034, 1231, "#ff4a58", 4),
    seg(1984, 171, 2042, 171, "#6a1b9a", 3), seg(1984, 208, 2042, 208, "#1268b3", 5),
    seg(2013, 235, 2013, 256, "#20c870", 2),
    dict(type="rect", xref="x3", yref="y3", x0=660, y0=1437, x1=682, y1=1460, line=dict(color="white", width=1.5)),
]


def panel_axis(left, right, **kw):
    return dict(domain=[fx(left), fx(right)], showgrid=False, zeroline=False, showline=True, mirror=True,
                linecolor="black", automargin=False, **kw)


def panel_yaxis(top, bottom, **kw):
    return dict(domain=[fy(bottom), fy(top)], showgrid=False, zeroline=False, showline=True, mirror=True,
                linecolor="black", automargin=False, **kw)


fig.update_layout(
    template="none",
    width=W, height=H, autosize=False, margin=dict(l=0, r=0, t=0, b=0),
    paper_bgcolor="white", plot_bgcolor="white", showlegend=False, hovermode=False, barmode="overlay",
    annotations=anns, shapes=shapes,
    xaxis=panel_axis(143, 1254, range=[20, 80], linewidth=4, tickvals=[20, 30, 40, 50, 60, 70, 80], ticks="",
                     tickfont=dict(family=SERIF, size=43, color="black"), ticklabelstandoff=5, anchor="y"),
    yaxis=panel_yaxis(52, 1749, range=[0, 1697], linewidth=4, showticklabels=False, ticks="", anchor="x"),
    xaxis2=panel_axis(1420, 2289, range=[5, 80], linewidth=3, tickvals=[10, 20, 30, 40, 50, 60, 70, 80],
                      ticks="inside", ticklen=14, tickwidth=3, tickcolor="black",
                      minor=dict(dtick=5, tick0=0, ticks="inside", ticklen=7, tickwidth=3, tickcolor="black"),
                      tickfont=dict(family=SERIF, size=28, color="black"), ticklabelstandoff=-6, anchor="y2"),
    yaxis2=panel_yaxis(54, 755, range=[-214, 1064], linewidth=3, showticklabels=False, tick0=0, dtick=142,
                       ticks="inside", ticklen=13, tickwidth=3, tickcolor="black",
                       minor=dict(dtick=71, tick0=0, ticks="inside", ticklen=7, tickwidth=3, tickcolor="black"),
                       anchor="x2"),
    xaxis3=dict(domain=[fx(2416), fx(3426)], range=[131, 1508], visible=False, automargin=False, anchor="y3"),
    yaxis3=dict(domain=[fy(774), fy(49)], range=[1518, 97], visible=False, automargin=False, anchor="x3"),
    xaxis4=panel_axis(1417, 2375, range=[167, 1533], linewidth=3, showticklabels=False, ticks="", anchor="y4"),
    yaxis4=panel_yaxis(875, 1876, range=[1518, 37], linewidth=3, showticklabels=False, ticks="", anchor="x4"),
    xaxis5=panel_axis(2376, 3430, range=[22, 1512], linewidth=3, showticklabels=False, ticks="", anchor="y5"),
    yaxis5=panel_yaxis(875, 1876, range=[1517, 22], linewidth=3, showticklabels=False, ticks="", anchor="x5"),
)

fig.write_html("out.html", config={"displayModeBar": False}, post_script="document.body.style.margin='0';")
